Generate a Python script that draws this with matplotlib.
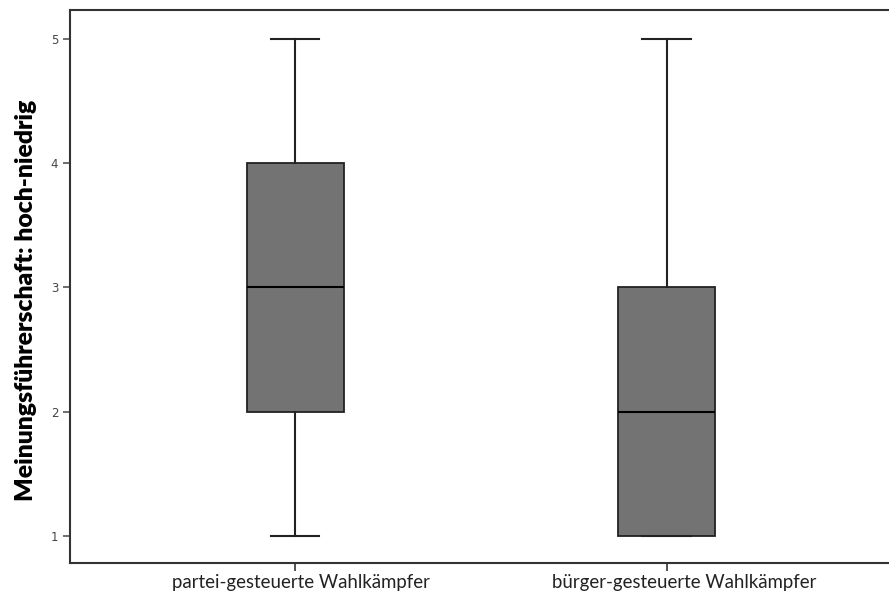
import matplotlib
matplotlib.use("Agg")
import matplotlib.pyplot as plt
import matplotlib.transforms as mtransforms

groups = ["partei-gesteuerte Wahlkämpfer", "bürger-gesteuerte Wahlkämpfer"]
whislo = [1, 1]
q1 = [2, 1]
med = [3, 2]
q3 = [4, 3]
whishi = [5, 5]

stats = []
for i in range(len(groups)):
    stats.append({"label": groups[i], "whislo": whislo[i], "q1": q1[i], "med": med[i],
                  "q3": q3[i], "whishi": whishi[i], "fliers": []})

fig = plt.figure(figsize=(8.89, 5.94), dpi=100)
ax = fig.add_axes([0.0787, 0.0522, 0.93, 0.931])

ax.bxp(stats, positions=[1, 2], widths=0.26, patch_artist=True, showfliers=False,
       boxprops=dict(facecolor="#737373", edgecolor="#222222", linewidth=1.3),
       medianprops=dict(color="black", linewidth=1.5),
       whiskerprops=dict(color="#222222", linewidth=1.5),
       capprops=dict(color="#222222", linewidth=1.5))

ax.set_xlim(0.393, 2.62)
ax.set_ylim(0.783, 5.233)
ax.set_yticks([1, 2, 3, 4, 5])
ax.set_xticks([1, 2])
ax.set_xticklabels(groups, fontsize=13.4, family="Lato", color="#222222")
ax.tick_params(axis="y", labelsize=8.5, labelcolor="#444444", length=5, width=1.2, color="#555555")
ax.tick_params(axis="x", length=6, width=1.2, color="#333333", pad=2)
for s in ["left", "bottom", "top"]:
    ax.spines[s].set_linewidth(1.5)
    ax.spines[s].set_color("#333333")
ax.spines["right"].set_visible(False)

# labels sit a little right of their ticks in the original
shifts = [6, 18]
for lab, dx in zip(ax.get_xticklabels(), shifts):
    lab.set_transform(lab.get_transform() + mtransforms.ScaledTranslation(dx / 100, 0, fig.dpi_scale_trans))

ax.set_ylabel("Meinungsführerschaft: hoch-niedrig", fontsize=17.8, family="Lato",
              fontweight="heavy")
ax.yaxis.set_label_coords(-0.04, 0.474)

fig.savefig("out.png", dpi=100)
